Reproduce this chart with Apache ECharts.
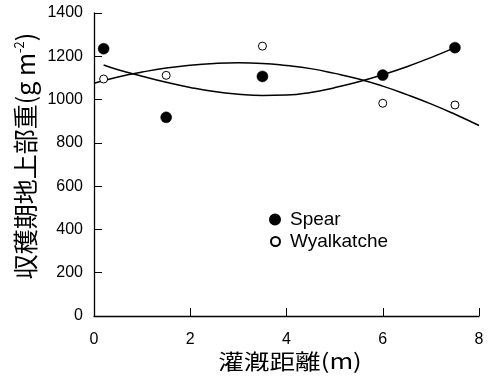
<!DOCTYPE html>
<html>
<head>
<meta charset="utf-8">
<script src="https://cdn.jsdelivr.net/npm/echarts@6/dist/echarts.min.js"></script>
<style>html,body{margin:0;padding:0;background:#fff}#c{width:488px;height:376px}</style>
</head>
<body>
<div id="c"></div>
<script>
// Observed data
const spearX = [0.2, 1.5, 3.5, 6.0, 7.5];
const spearY = [1235, 918, 1107, 1113, 1240];
const wyalX = [0.2, 1.5, 3.5, 6.0, 7.5];
const wyalY = [1095, 1112, 1247, 983, 975];
// Fitted curves
const spearFitX = [0.2, 0.5, 1, 1.5, 2, 2.5, 3, 3.5, 4, 4.5, 5, 5.5, 6, 6.5, 7, 7.5];
const spearFitY = [1160, 1138, 1108, 1080, 1056, 1037, 1025, 1019, 1021, 1033, 1055, 1082, 1115, 1152, 1194, 1240];
const wyalFitX = [0, 0.5, 1, 1.5, 2, 2.5, 3, 3.5, 4, 4.5, 5, 5.5, 6, 6.5, 7, 7.5, 8];
const wyalFitY = [1075, 1104, 1127, 1146, 1159, 1167, 1170, 1167, 1157, 1143, 1121, 1095, 1062, 1023, 980, 932, 880];
const xTicks = [0, 2, 4, 6, 8];
const yTicks = [0, 200, 400, 600, 800, 1000, 1200, 1400];

const pair = (xs, ys) => xs.map((x, i) => [x, ys[i]]);
const chart = echarts.init(document.getElementById('c'));
const latin = '"Liberation Sans", Arial, sans-serif';
chart.setOption({
  animation: false,
  backgroundColor: '#fff',
  grid: {left: 94, right: 9, top: 13, bottom: 60},
  xAxis: {
    type: 'value', min: xTicks[0], max: xTicks[xTicks.length - 1], interval: 2,
    axisLine: {lineStyle: {color: '#000', width: 1.3}},
    axisTick: {show: true, inside: true, length: 8, lineStyle: {color: '#000', width: 1}},
    axisLabel: {margin: 16, color: '#000', fontSize: 16, fontFamily: latin, formatter: v => String(v)},
    splitLine: {show: false}
  },
  yAxis: {
    type: 'value', min: yTicks[0], max: yTicks[yTicks.length - 1], interval: 200,
    axisLine: {show: true, lineStyle: {color: '#000', width: 1.3}},
    axisTick: {show: true, inside: true, length: 8, lineStyle: {color: '#000', width: 1}},
    axisLabel: {margin: 11, color: '#000', fontSize: 16, fontFamily: latin, formatter: v => String(v)},
    splitLine: {show: false}
  },
  legend: [
    {data: ['Spear'], orient: 'vertical', left: 269, top: 210, padding: 0,
     itemWidth: 10, itemHeight: 10,
     textStyle: {fontSize: 19, color: '#000', fontFamily: latin, padding: [0, 0, 0, 5]}},
    {data: ['Wyalkatche'], orient: 'vertical', left: 270, top: 232, padding: 0,
     itemWidth: 9, itemHeight: 9,
     textStyle: {fontSize: 19, color: '#000', fontFamily: latin, padding: [0, 0, 0, 5]}}
  ],
  graphic: [
    {type: 'text', x: 290, y: 361,
     scaleX: 1.22,
     style: {text: '灌漑距離(m)', font: '21px "Noto Sans CJK JP"', fill: '#000', align: 'center', verticalAlign: 'middle'}},
    {type: 'text', x: 25, y: 156, rotation: Math.PI / 2,
     style: {text: '{a|収穫期地上部重(g m}{s|-2}{a|)}', align: 'center', verticalAlign: 'middle',
       rich: {a: {font: '25px "Noto Sans CJK JP"', fill: '#000', verticalAlign: 'bottom'},
              s: {font: '13px "Noto Sans CJK JP"', fill: '#000', verticalAlign: 'top'}}}}
  ],
  series: [
    {name: 'SpearFit', type: 'line', smooth: true, showSymbol: false, silent: true,
     lineStyle: {color: '#000', width: 1.5}, data: pair(spearFitX, spearFitY), z: 1},
    {name: 'WyalFit', type: 'line', smooth: true, showSymbol: false, silent: true,
     lineStyle: {color: '#000', width: 1.5}, data: pair(wyalFitX, wyalFitY), z: 1},
    {name: 'Spear', type: 'scatter', symbol: 'circle', symbolSize: 11,
     itemStyle: {color: '#000', borderColor: '#000', borderWidth: 0.5, opacity: 1}, data: pair(spearX, spearY), z: 3},
    {name: 'Wyalkatche', type: 'scatter', symbol: 'circle', symbolSize: 8,
     itemStyle: {color: '#fff', borderColor: '#000', borderWidth: 1, opacity: 1}, data: pair(wyalX, wyalY), z: 3}
  ]
});
</script>
</body>
</html>
